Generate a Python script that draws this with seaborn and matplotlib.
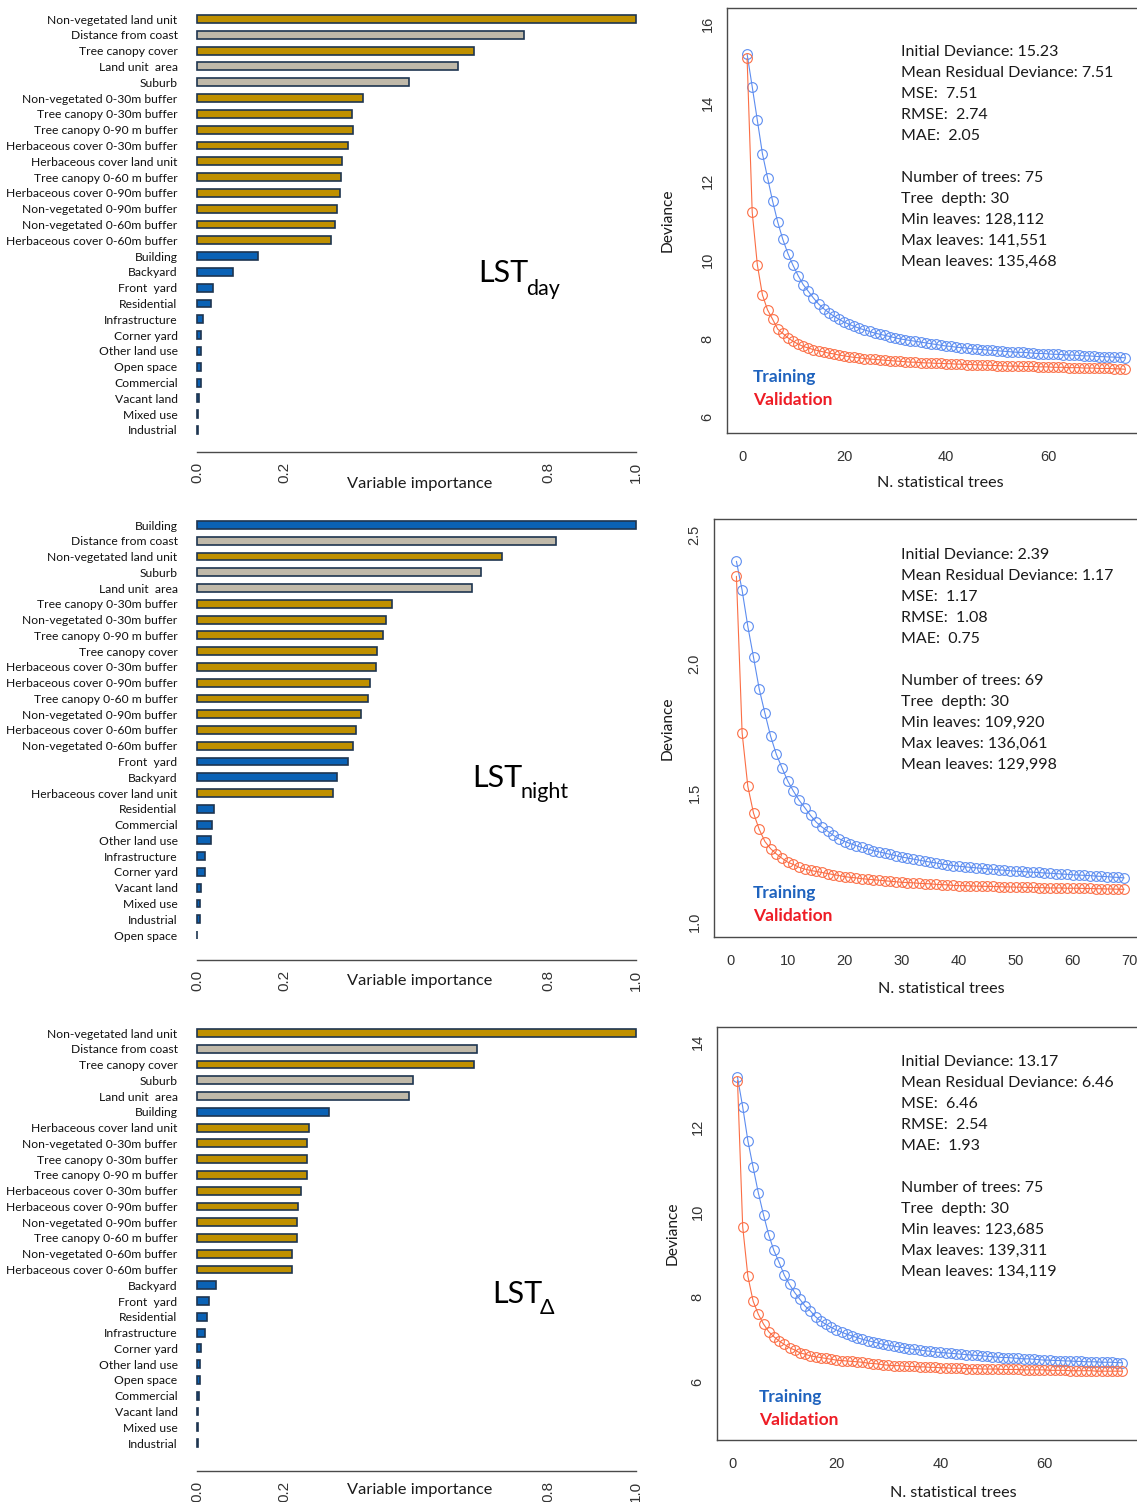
import numpy as np
import pandas as pd
import matplotlib
matplotlib.use("Agg")
import matplotlib.pyplot as plt
import seaborn as sns

# ---------------------------------------------------------------------------
# Relative variable importance (scaled to the strongest predictor)
# ---------------------------------------------------------------------------
day_vars = [
    "Non-vegetated land unit", "Distance from coast", "Tree canopy cover",
    "Land unit  area", "Suburb", "Non-vegetated 0-30m buffer",
    "Tree canopy 0-30m buffer", "Tree canopy 0-90 m buffer",
    "Herbaceous cover 0-30m buffer", "Herbaceous cover land unit",
    "Tree canopy 0-60 m buffer", "Herbaceous cover 0-90m buffer",
    "Non-vegetated 0-90m buffer", "Non-vegetated 0-60m buffer",
    "Herbaceous cover 0-60m buffer", "Building", "Backyard", "Front  yard",
    "Residential", "Infrastructure", "Corner yard", "Other land use",
    "Open space", "Commercial", "Vacant land", "Mixed use", "Industrial",
]
day_imp = [1.0, 0.744, 0.631, 0.594, 0.483, 0.377, 0.354, 0.355, 0.343,
           0.330, 0.328, 0.325, 0.320, 0.314, 0.305, 0.139, 0.082, 0.036,
           0.031, 0.014, 0.010, 0.010, 0.008, 0.008, 0.005, 0.003, 0.003]

night_vars = [
    "Building", "Distance from coast", "Non-vegetated land unit", "Suburb",
    "Land unit  area", "Tree canopy 0-30m buffer", "Non-vegetated 0-30m buffer",
    "Tree canopy 0-90 m buffer", "Tree canopy cover",
    "Herbaceous cover 0-30m buffer", "Herbaceous cover 0-90m buffer",
    "Tree canopy 0-60 m buffer", "Non-vegetated 0-90m buffer",
    "Herbaceous cover 0-60m buffer", "Non-vegetated 0-60m buffer",
    "Front  yard", "Backyard", "Herbaceous cover land unit", "Residential",
    "Commercial", "Other land use", "Infrastructure", "Corner yard",
    "Vacant land", "Mixed use", "Industrial", "Open space",
]
night_imp = [1.0, 0.818, 0.695, 0.647, 0.626, 0.444, 0.431, 0.423, 0.411,
             0.408, 0.394, 0.389, 0.374, 0.363, 0.356, 0.345, 0.318, 0.310,
             0.038, 0.035, 0.032, 0.019, 0.019, 0.009, 0.006, 0.006, 0.001]

delta_vars = [
    "Non-vegetated land unit", "Distance from coast", "Tree canopy cover",
    "Suburb", "Land unit  area", "Building", "Herbaceous cover land unit",
    "Non-vegetated 0-30m buffer", "Tree canopy 0-30m buffer",
    "Tree canopy 0-90 m buffer", "Herbaceous cover 0-30m buffer",
    "Herbaceous cover 0-90m buffer", "Non-vegetated 0-90m buffer",
    "Tree canopy 0-60 m buffer", "Non-vegetated 0-60m buffer",
    "Herbaceous cover 0-60m buffer", "Backyard", "Front  yard", "Residential",
    "Infrastructure", "Corner yard", "Other land use", "Open space",
    "Commercial", "Vacant land", "Mixed use", "Industrial",
]
delta_imp = [1.0, 0.637, 0.631, 0.491, 0.484, 0.301, 0.255, 0.251, 0.251,
             0.251, 0.238, 0.230, 0.228, 0.228, 0.217, 0.217, 0.043, 0.028,
             0.023, 0.019, 0.009, 0.006, 0.007, 0.004, 0.002, 0.002, 0.002]

context_vars = ["Distance from coast", "Land unit  area", "Suburb"]
cover_prefixes = ("Non-vegetated", "Tree canopy", "Herbaceous")

# ---------------------------------------------------------------------------
# Deviance versus number of trees (training / validation)
# ---------------------------------------------------------------------------
trees_day = np.arange(1, 76)
dev_day_train = [
    15.23, 14.40, 13.55, 12.70, 12.09, 11.49, 10.96, 10.52, 10.16, 9.86,
    9.60, 9.37, 9.20, 9.03, 8.88, 8.76, 8.66, 8.57, 8.49, 8.42,
    8.36, 8.31, 8.26, 8.22, 8.18, 8.14, 8.11, 8.08, 8.05, 8.02,
    7.99, 7.97, 7.95, 7.93, 7.91, 7.89, 7.87, 7.85, 7.83, 7.81,
    7.80, 7.78, 7.77, 7.76, 7.74, 7.73, 7.72, 7.71, 7.70, 7.69,
    7.68, 7.67, 7.66, 7.65, 7.65, 7.64, 7.63, 7.62, 7.62, 7.61,
    7.60, 7.60, 7.59, 7.58, 7.58, 7.57, 7.56, 7.56, 7.55, 7.54,
    7.54, 7.53, 7.53, 7.52, 7.51,
]
dev_day_valid = [
    15.12, 11.21, 9.88, 9.11, 8.73, 8.49, 8.24, 8.13, 8.02, 7.93,
    7.86, 7.80, 7.76, 7.72, 7.69, 7.66, 7.63, 7.61, 7.58, 7.56,
    7.54, 7.52, 7.51, 7.49, 7.48, 7.47, 7.46, 7.45, 7.44, 7.43,
    7.42, 7.41, 7.40, 7.40, 7.39, 7.38, 7.38, 7.37, 7.37, 7.36,
    7.36, 7.35, 7.35, 7.34, 7.34, 7.33, 7.33, 7.32, 7.32, 7.31,
    7.31, 7.30, 7.30, 7.30, 7.29, 7.29, 7.29, 7.28, 7.28, 7.28,
    7.27, 7.27, 7.27, 7.26, 7.26, 7.26, 7.25, 7.25, 7.25, 7.24,
    7.24, 7.24, 7.23, 7.23, 7.22,
]

trees_night = np.arange(1, 70)
dev_night_train = [
    2.396, 2.284, 2.144, 2.024, 1.901, 1.807, 1.718, 1.648, 1.595, 1.545,
    1.505, 1.470, 1.441, 1.411, 1.385, 1.366, 1.350, 1.334, 1.321, 1.310,
    1.302, 1.294, 1.287, 1.281, 1.275, 1.270, 1.265, 1.260, 1.255, 1.250,
    1.246, 1.242, 1.238, 1.234, 1.230, 1.227, 1.223, 1.220, 1.217, 1.214,
    1.212, 1.210, 1.208, 1.206, 1.204, 1.202, 1.200, 1.199, 1.197, 1.195,
    1.194, 1.192, 1.191, 1.190, 1.188, 1.187, 1.186, 1.184, 1.183, 1.181,
    1.180, 1.179, 1.178, 1.176, 1.175, 1.174, 1.172, 1.171, 1.169,
]
dev_night_valid = [
    2.338, 1.731, 1.524, 1.420, 1.357, 1.310, 1.282, 1.262, 1.245, 1.230,
    1.221, 1.210, 1.203, 1.198, 1.194, 1.190, 1.186, 1.182, 1.178, 1.174,
    1.171, 1.169, 1.166, 1.164, 1.162, 1.160, 1.158, 1.156, 1.154, 1.152,
    1.151, 1.150, 1.148, 1.147, 1.146, 1.144, 1.143, 1.142, 1.140, 1.139,
    1.139, 1.138, 1.137, 1.137, 1.136, 1.136, 1.135, 1.134, 1.134, 1.133,
    1.133, 1.132, 1.132, 1.131, 1.131, 1.130, 1.130, 1.130, 1.129, 1.129,
    1.129, 1.128, 1.128, 1.127, 1.127, 1.126, 1.126, 1.125, 1.125,
]

trees_delta = np.arange(1, 76)
dev_delta_train = [
    13.18, 12.48, 11.68, 11.06, 10.46, 9.94, 9.47, 9.10, 8.82, 8.52,
    8.30, 8.11, 7.95, 7.79, 7.68, 7.54, 7.44, 7.36, 7.29, 7.23,
    7.18, 7.13, 7.09, 7.05, 7.01, 6.98, 6.95, 6.92, 6.89, 6.87,
    6.85, 6.83, 6.81, 6.79, 6.77, 6.76, 6.74, 6.73, 6.71, 6.70,
    6.69, 6.68, 6.67, 6.66, 6.65, 6.64, 6.63, 6.62, 6.61, 6.60,
    6.59, 6.58, 6.58, 6.57, 6.56, 6.55, 6.55, 6.54, 6.53, 6.52,
    6.52, 6.51, 6.51, 6.50, 6.50, 6.49, 6.49, 6.48, 6.48, 6.48,
    6.47, 6.47, 6.47, 6.46, 6.46,
]
dev_delta_valid = [
    13.10, 9.66, 8.49, 7.91, 7.60, 7.37, 7.19, 7.07, 6.97, 6.89,
    6.81, 6.76, 6.69, 6.66, 6.62, 6.60, 6.58, 6.56, 6.54, 6.52,
    6.51, 6.50, 6.49, 6.48, 6.47, 6.45, 6.44, 6.43, 6.41, 6.40,
    6.39, 6.39, 6.38, 6.37, 6.37, 6.36, 6.36, 6.35, 6.35, 6.34,
    6.34, 6.33, 6.33, 6.33, 6.32, 6.32, 6.32, 6.31, 6.31, 6.31,
    6.31, 6.30, 6.30, 6.30, 6.30, 6.29, 6.29, 6.29, 6.29, 6.29,
    6.28, 6.28, 6.28, 6.28, 6.27, 6.27, 6.27, 6.27, 6.27, 6.26,
    6.26, 6.26, 6.26, 6.26, 6.26,
]

stats_day = ["Initial Deviance: 15.23", "Mean Residual Deviance: 7.51",
             "MSE:  7.51", "RMSE:  2.74", "MAE:  2.05", "",
             "Number of trees: 75", "Tree  depth: 30", "Min leaves: 128,112",
             "Max leaves: 141,551", "Mean leaves: 135,468"]
stats_night = ["Initial Deviance: 2.39", "Mean Residual Deviance: 1.17",
               "MSE:  1.17", "RMSE:  1.08", "MAE:  0.75", "",
               "Number of trees: 69", "Tree  depth: 30", "Min leaves: 109,920",
               "Max leaves: 136,061", "Mean leaves: 129,998"]
stats_delta = ["Initial Deviance: 13.17", "Mean Residual Deviance: 6.46",
               "MSE:  6.46", "RMSE:  2.54", "MAE:  1.93", "",
               "Number of trees: 75", "Tree  depth: 30", "Min leaves: 123,685",
               "Max leaves: 139,311", "Mean leaves: 134,119"]

# ---------------------------------------------------------------------------
# Styling
# ---------------------------------------------------------------------------
sns.set_style("white")
plt.rcParams["font.family"] = ["Lato", "DejaVu Sans"]

W, H, DPI = 1137, 1502, 100
PAL = {"cover": "#BF9000", "context": "#C0B9A9", "built": "#0A62B6"}
EDGE = "#1E3550"
C_TRAIN = "#5D8DF0"
C_VALID = "#FB6E45"
AXIS_GREY = "#4A4A4A"
TICK_FONT = "Liberation Sans"

fig = plt.figure(figsize=(W / DPI, H / DPI), dpi=DPI)


def px_rect(left, top, right, bottom):
    return [left / W, 1 - bottom / H, (right - left) / W, (bottom - top) / H]


def ftext(x, y, s, **kw):
    return fig.text(x / W, 1 - y / H, s, **kw)


def group_of(name):
    if name in context_vars:
        return "context"
    if name.startswith(cover_prefixes):
        return "cover"
    return "built"


def bar_panel(names, imp, first_y, last_y, axis_y, vi_y, main, sub, lst_xy, sub_drop):
    n = len(names)
    step = (last_y - first_y) / (n - 1)
    x0, x1 = 197, 636
    ax = fig.add_axes(px_rect(x0, first_y - 0.5 * step, x1, axis_y))
    df = pd.DataFrame({"var": names, "imp": imp,
                       "grp": [group_of(v) for v in names]})
    sns.barplot(data=df, x="imp", y="var", hue="grp", order=names,
                hue_order=["cover", "context", "built"], palette=PAL,
                dodge=False, width=0.5, saturation=1, edgecolor=EDGE,
                linewidth=1.2, legend=False, ax=ax)
    for p in ax.patches:
        p.set_clip_on(False)
    ax.set_xlim(0, 1)
    ax.set_ylim(n - 1 + (axis_y - last_y) / step, -0.5)
    ax.set_xlabel("")
    ax.set_ylabel("")
    for s in ("top", "right", "left"):
        ax.spines[s].set_visible(False)
    ax.spines["bottom"].set_color(AXIS_GREY)
    ax.spines["bottom"].set_linewidth(1.0)
    ax.spines["bottom"].set_bounds(0, 1)
    ax.set_xticks([0, 0.2, 0.4, 0.6, 0.8, 1.0])
    ax.set_xticklabels(["0.0", "0.2", "", "", "0.8", "1.0"],
                       family=TICK_FONT, fontsize=11, rotation=90, color="#333333")
    ax.tick_params(axis="x", direction="out", length=6, width=1.0,
                   color=AXIS_GREY, pad=1)
    ax.tick_params(axis="y", length=0, pad=14, labelsize=8.7, labelcolor="#111111")
    ftext(420, vi_y, "Variable importance", ha="center", va="center",
          fontsize=11.8, color="#1a1a1a")
    t = ftext(lst_xy[0], lst_xy[1], main, ha="left", va="baseline",
              fontsize=22, color="black", family=["Lato", "DejaVu Sans"])
    fig.canvas.draw()
    bb = t.get_window_extent()
    ftext(bb.x1 - 2, lst_xy[1] + sub_drop, sub, ha="left", va="baseline",
          fontsize=15.5, color="black", family=["Lato", "DejaVu Sans"])
    return ax


def dev_panel(trees, train, valid, left, top, right, bottom, xlim, ylim,
              xticks, yticks, ylabels, stats, stats_y, leg_x, leg_y, ylab_x, xlab_xy):
    ax = fig.add_axes(px_rect(left, top, right, bottom))
    sns.lineplot(x=trees, y=train, ax=ax, color=C_TRAIN, linewidth=0.8,
                 marker="o", markersize=7, markerfacecolor="none",
                 markeredgecolor=C_TRAIN, markeredgewidth=0.8)
    sns.lineplot(x=trees, y=valid, ax=ax, color=C_VALID, linewidth=0.8,
                 marker="o", markersize=7, markerfacecolor="none",
                 markeredgecolor=C_VALID, markeredgewidth=0.8)
    ax.set_xlim(*xlim)
    ax.set_ylim(*ylim)
    ax.set_xlabel("")
    ax.set_ylabel("")
    for s in ax.spines.values():
        s.set_color(AXIS_GREY)
        s.set_linewidth(1.0)
    ax.set_xticks(xticks)
    ax.set_xticklabels([str(v) for v in xticks], family=TICK_FONT,
                       fontsize=10.5, color="#333333")
    ax.set_yticks(yticks)
    ax.set_yticklabels(ylabels, family=TICK_FONT, fontsize=10.5,
                       color="#333333", rotation=90, va="center")
    ax.tick_params(axis="both", direction="out", length=5, width=1.0,
                   color=AXIS_GREY)
    ax.tick_params(axis="x", pad=7)
    ax.tick_params(axis="y", pad=4)
    for i, line in enumerate(stats):
        ftext(901, stats_y + 21 * i, line, ha="left", va="center",
              fontsize=11.5, color="#1a1a1a")
    ftext(leg_x, leg_y, "Training", ha="left", va="center", fontsize=12.5,
          fontweight="bold", color="#1F63BE")
    ftext(leg_x, leg_y + 23, "Validation", ha="left", va="center",
          fontsize=12.5, fontweight="bold", color="#EE1C25")
    ftext(ylab_x, (top + bottom) / 2, "Deviance", ha="center", va="center",
          rotation=90, fontsize=11.2, color="#1a1a1a")
    ftext(xlab_xy[0], xlab_xy[1], "N. statistical trees", ha="center",
          va="center", fontsize=11.6, color="#1a1a1a")
    return ax


# Left column: importance bars
bar_panel(day_vars, day_imp, 19, 430, 452, 484, "LST", "day", (478, 282), 13)
bar_panel(night_vars, night_imp, 525, 935, 960, 981, "LST", "night", (472, 787), 11)
bar_panel(delta_vars, delta_imp, 1033, 1443, 1471, 1490, "LST", "\u0394", (492, 1303), 11)

# Right column: deviance curves
dev_panel(trees_day, dev_day_train, dev_day_valid, 727, 8, 1140, 433,
          (-2.94, 78), (5.6, 16.4), [0, 20, 40, 60], [6, 8, 10, 12, 14, 16],
          ["6", "8", "10", "12", "14", "16"],
          stats_day, 52, 753, 377, 668, (940, 483))
dev_panel(trees_night, dev_night_train, dev_night_valid, 714, 519, 1147, 937,
          (-2.93, 73), (0.94, 2.56), [0, 10, 20, 30, 40, 50, 60, 70],
          [1.0, 1.5, 2.0, 2.5], ["1.0", "1.5", "2.0", "2.5"],
          stats_night, 555, 753, 893, 668, (941, 989))
dev_panel(trees_delta, dev_delta_train, dev_delta_valid, 717, 1027, 1138, 1440,
          (-2.94, 78), (4.64, 14.36), [0, 20, 40, 60], [6, 8, 10, 12, 14],
          ["6", "8", "10", "12", "14"],
          stats_delta, 1062, 759, 1397, 673, (953, 1493))

fig.savefig("out.png", dpi=DPI)
